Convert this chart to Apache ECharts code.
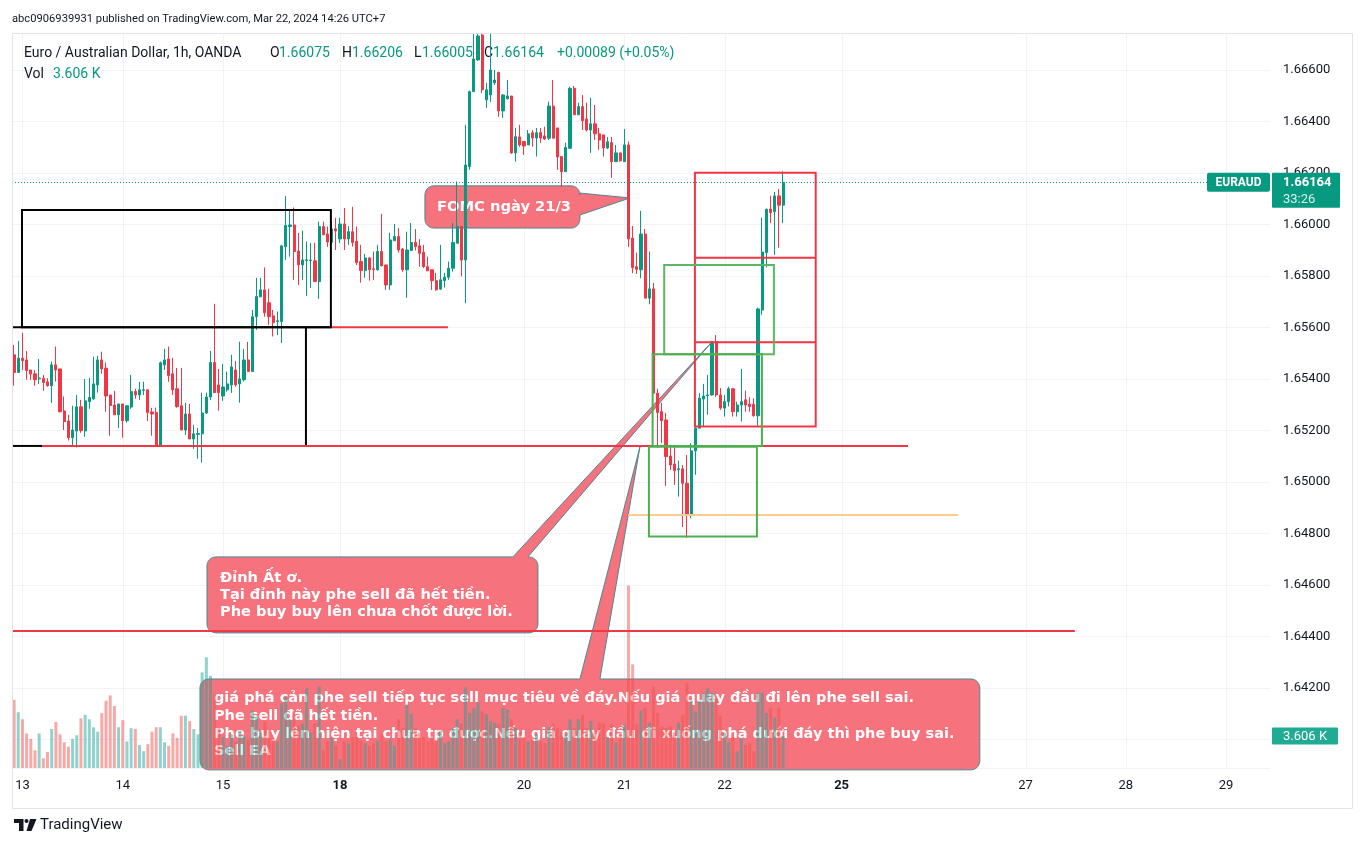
<!DOCTYPE html>
<html><head><meta charset="utf-8">
<script src="https://cdn.jsdelivr.net/npm/echarts/dist/echarts.min.js"></script>
<style>html,body{margin:0;padding:0;background:#fff;}#c{width:1363px;height:846px;}</style>
</head><body><div id="c"></div>
<script>
// ---------- DATA ----------
// trading sessions (day of March, first hour, end hour) in UTC+7, one candle per hour
const sessions = [['12',22,24],['13',0,24],['14',0,24],['15',0,24],['16',0,4],
  ['18',4,24],['19',0,24],['20',0,24],['21',0,24],['22',0,24],['23',0,4],
  ['25',4,24],['26',0,24],['27',0,24],['28',0,24],['29',0,11]];
const dayLabels = ['13','14','15','18','20','21','22','25','27','28','29'];
const boldDays = ['18','25'];
const priceTickDigits = 5;

// EURAUD 1h candles [open, close, low, high]
const candles = [
[1.65494,1.65425,1.65374,1.65532],[1.65425,1.65481,1.65425,1.65548],[1.65481,1.65471,1.65435,1.65579],[1.65474,1.65433,1.65397,1.65509],
[1.65435,1.65419,1.65397,1.65435],[1.65420,1.65397,1.65374,1.65435],[1.65401,1.65404,1.65381,1.65478],[1.65403,1.65386,1.65354,1.65416],
[1.65389,1.65374,1.65370,1.65403],[1.65374,1.65455,1.65307,1.65468],[1.65455,1.65435,1.65390,1.65526],[1.65439,1.65273,1.65270,1.65439],
[1.65276,1.65235,1.65202,1.65332],[1.65237,1.65172,1.65161,1.65261],[1.65172,1.65202,1.65140,1.65296],[1.65198,1.65292,1.65134,1.65338],
[1.65292,1.65200,1.65191,1.65319],[1.65198,1.65315,1.65176,1.65400],[1.65312,1.65328,1.65284,1.65404],[1.65323,1.65381,1.65319,1.65487],
[1.65377,1.65474,1.65347,1.65490],[1.65474,1.65439,1.65420,1.65506],[1.65442,1.65334,1.65273,1.65464],[1.65338,1.65297,1.65180,1.65338],
[1.65299,1.65261,1.65261,1.65354],[1.65261,1.65303,1.65210,1.65303],[1.65303,1.65238,1.65172,1.65303],[1.65238,1.65296,1.65230,1.65299],
[1.65291,1.65351,1.65284,1.65416],[1.65351,1.65338,1.65323,1.65362],[1.65338,1.65358,1.65319,1.65389],[1.65356,1.65358,1.65338,1.65390],
[1.65358,1.65270,1.65237,1.65358],[1.65272,1.65264,1.65180,1.65288],[1.65270,1.65140,1.65140,1.65289],[1.65140,1.65463,1.65140,1.65468],
[1.65455,1.65474,1.65435,1.65517],[1.65478,1.65413,1.65389,1.65526],[1.65420,1.65358,1.65338,1.65482],[1.65362,1.65293,1.65288,1.65443],
[1.65296,1.65202,1.65202,1.65443],[1.65202,1.65264,1.65183,1.65307],[1.65264,1.65167,1.65167,1.65303],[1.65167,1.65187,1.65129,1.65222],
[1.65185,1.65188,1.65091,1.65210],[1.65187,1.65268,1.65075,1.65347],[1.65268,1.65330,1.65264,1.65347],[1.65330,1.65464,1.65319,1.65509],
[1.65464,1.65347,1.65347,1.65692],[1.65377,1.65347,1.65277,1.65439],[1.65334,1.65369,1.65315,1.65459],[1.65358,1.65381,1.65351,1.65429],
[1.65377,1.65447,1.65346,1.65494],[1.65435,1.65377,1.65370,1.65470],[1.65381,1.65400,1.65308,1.65545],[1.65397,1.65474,1.65390,1.65517],
[1.65474,1.65429,1.65429,1.65544],[1.65429,1.65642,1.65429,1.65668],[1.65642,1.65720,1.65591,1.65793],[1.65719,1.65746,1.65719,1.65793],
[1.65746,1.65657,1.65642,1.65833],[1.65696,1.65642,1.65610,1.65750],[1.65645,1.65619,1.65565,1.65668],[1.65623,1.65626,1.65571,1.65662],
[1.65623,1.65917,1.65540,1.65921],[1.65914,1.65996,1.65862,1.66111],[1.65992,1.65998,1.65875,1.66057],[1.65998,1.65895,1.65785,1.66066],
[1.65897,1.65843,1.65765,1.65967],[1.65843,1.65862,1.65785,1.65976],[1.65860,1.65863,1.65723,1.65934],[1.65860,1.65862,1.65754,1.65928],
[1.65859,1.65778,1.65778,1.65929],[1.65778,1.65992,1.65711,1.66011],[1.65992,1.65960,1.65960,1.66011],[1.65963,1.65932,1.65913,1.65992],
[1.65931,1.65983,1.65921,1.66011],[1.65983,1.65975,1.65901,1.66026],[1.65944,1.66002,1.65928,1.66026],[1.66002,1.65944,1.65901,1.66064],
[1.65944,1.65972,1.65921,1.65994],[1.65972,1.65930,1.65914,1.66069],[1.65934,1.65852,1.65843,1.65992],[1.65856,1.65821,1.65774,1.65921],
[1.65821,1.65870,1.65793,1.65886],[1.65870,1.65824,1.65782,1.65874],[1.65828,1.65825,1.65785,1.65895],[1.65824,1.65895,1.65821,1.65921],
[1.65895,1.65839,1.65839,1.66041],[1.65843,1.65765,1.65746,1.65843],[1.65765,1.65940,1.65746,1.65968],[1.65937,1.65953,1.65937,1.66002],
[1.65953,1.65901,1.65891,1.65986],[1.65905,1.65824,1.65817,1.65909],[1.65824,1.65901,1.65715,1.65972],[1.65899,1.65930,1.65899,1.66006],
[1.65931,1.65914,1.65899,1.65982],[1.65917,1.65888,1.65836,1.65943],[1.65892,1.65836,1.65831,1.65921],[1.65836,1.65820,1.65820,1.65875],
[1.65824,1.65782,1.65746,1.65824],[1.65782,1.65746,1.65743,1.65812],[1.65749,1.65785,1.65746,1.65921],[1.65782,1.65795,1.65755,1.65812],
[1.65795,1.65830,1.65785,1.65856],[1.65830,1.65930,1.65817,1.66006],[1.65927,1.65992,1.65927,1.66167],[1.65992,1.65862,1.65798,1.65992],
[1.65862,1.66231,1.65694,1.66387],[1.66225,1.66516,1.66212,1.66520],[1.66516,1.66643,1.66516,1.66742],[1.66639,1.66732,1.66635,1.66742],
[1.66736,1.66523,1.66510,1.66742],[1.66484,1.66523,1.66453,1.66550],[1.66503,1.66600,1.66476,1.66742],[1.66550,1.66561,1.66542,1.66600],
[1.66590,1.66441,1.66418,1.66594],[1.66441,1.66503,1.66414,1.66506],[1.66488,1.66499,1.66485,1.66561],[1.66499,1.66278,1.66274,1.66499],
[1.66278,1.66341,1.66244,1.66375],[1.66340,1.66309,1.66302,1.66387],[1.66322,1.66305,1.66270,1.66322],[1.66309,1.66352,1.66309,1.66367],
[1.66356,1.66336,1.66302,1.66367],[1.66336,1.66356,1.66264,1.66375],[1.66357,1.66336,1.66317,1.66375],[1.66344,1.66332,1.66328,1.66380],
[1.66335,1.66460,1.66328,1.66477],[1.66460,1.66335,1.66335,1.66561],[1.66375,1.66262,1.66212,1.66375],[1.66264,1.66205,1.66147,1.66264],
[1.66205,1.66299,1.66205,1.66318],[1.66296,1.66529,1.66293,1.66535],[1.66529,1.66426,1.66426,1.66538],[1.66426,1.66458,1.66426,1.66473],
[1.66458,1.66403,1.66367,1.66503],[1.66410,1.66367,1.66361,1.66473],[1.66367,1.66391,1.66278,1.66492],[1.66391,1.66352,1.66328,1.66464],
[1.66352,1.66328,1.66290,1.66375],[1.66348,1.66297,1.66264,1.66348],[1.66297,1.66321,1.66293,1.66340],[1.66318,1.66244,1.66181,1.66340],
[1.66244,1.66278,1.66244,1.66309],[1.66278,1.66247,1.66244,1.66278],[1.66244,1.66309,1.66244,1.66371],[1.66309,1.65944,1.65913,1.66322],
[1.65947,1.65833,1.65811,1.65994],[1.65836,1.65826,1.65808,1.65891],[1.65824,1.65963,1.65791,1.66053],[1.65963,1.65714,1.65714,1.65983],
[1.65714,1.65750,1.65690,1.65895],[1.65750,1.65345,1.65345,1.65773],[1.65345,1.65270,1.65132,1.65362],[1.65273,1.65238,1.65152,1.65307],
[1.65241,1.65099,1.64985,1.65268],[1.65101,1.65066,1.65047,1.65144],[1.65070,1.65044,1.64989,1.65144],[1.65048,1.65051,1.64943,1.65083],
[1.65051,1.64995,1.64825,1.65066],[1.64995,1.64876,1.64783,1.65105],[1.64876,1.65121,1.64859,1.65151],[1.65121,1.65209,1.65028,1.65280],
[1.65209,1.65325,1.65209,1.65345],[1.65322,1.65334,1.65215,1.65381],[1.65335,1.65338,1.65261,1.65416],[1.65338,1.65545,1.65335,1.65548],
[1.65545,1.65338,1.65330,1.65571],[1.65338,1.65287,1.65280,1.65365],[1.65287,1.65312,1.65254,1.65338],[1.65312,1.65362,1.65293,1.65370],
[1.65362,1.65273,1.65254,1.65365],[1.65273,1.65299,1.65254,1.65312],[1.65299,1.65312,1.65235,1.65439],[1.65319,1.65299,1.65273,1.65355],
[1.65302,1.65293,1.65273,1.65329],[1.65302,1.65257,1.65254,1.65325],[1.65257,1.65672,1.65218,1.65677],[1.65668,1.65893,1.65649,1.66026],
[1.65891,1.66059,1.65833,1.66062],[1.66060,1.66046,1.66005,1.66112],[1.66050,1.66111,1.65882,1.66127],[1.66111,1.66075,1.65910,1.66138],
[1.66075,1.66164,1.66005,1.66206]
];

// volume in thousands
const volumes = [
7.7,6.3,5.5,3.9,3.3,2.0,3.9,1.1,1.8,4.4, 5.2,3.8,2.9,2.4,3.3,3.7,5.6,6.0,5.5,4.6,
4.1,6.2,7.6,8.2,7.0,4.6,5.4,3.0,4.5,4.4, 2.6,1.9,2.7,4.1,4.6,4.6,2.9,2.5,3.9,3.4,
5.9,5.9,5.3,4.4,3.8,10.8,12.5,10.4,8.3,4.5, 3.5,2.5,3.8,3.0,4.2,3.6,3.2,6.5,5.8,4.0,
5.2,4.3,3.4,3.0,7.3,8.0,5.5,6.0,4.8,5.0, 9.0,4.0,5.0,9.2,2.0,3.0,3.4,2.5,1.0,3.0,
2.8,3.5,3.5,3.0,2.8,2.5,2.8,3.1,3.8,3.0, 3.2,2.5,5.5,4.5,7.2,6.1,4.5,4.0,3.5,3.0,
3.6,3.2,4.2,2.8,3.0,4.5,5.5,5.0,9.1,6.2, 6.8,7.4,6.4,6.1,5.3,5.1,5.0,6.8,6.6,5.5,
4.5,4.0,3.5,3.0,3.2,3.8,3.0,2.8,4.6,5.0, 4.5,4.0,3.8,5.5,4.5,5.5,6.0,4.5,5.3,4.2,
5.1,5.0,3.5,4.9,2.9,4.0,4.9,20.6,11.7,5.0, 6.5,6.8,5.1,9.2,6.2,4.7,4.5,4.7,4.0,5.1,
6.0,9.6,7.6,6.4,7.6,8.5,9.0,8.5,7.8,5.9, 4.0,2.9,3.5,1.9,3.4,2.6,2.8,1.9,8.5,8.5,
6.2,6.8,5.7,6.8,3.606
];

// drawings (bar index, price)
const drawLines = [
  {from:[-0.5,1.65601], to:[75.8,1.65601], color:'#000000'},
  {from:[75.8,1.65601], to:[103.8,1.65601], color:'#f23645'},
  {from:[69.83,1.65601], to:[69.83,1.65140], color:'#000000'},
  {from:[-0.5,1.65140], to:[6.68,1.65140], color:'#000000'},
  {from:[6.68,1.65140], to:[213.9,1.65140], color:'#f23645'},
  {from:[-0.5,1.64421], to:[253.8,1.64421], color:'#f23645'},
  {from:[146.9,1.64872], to:[225.8,1.64872], color:'#fccb8c'},
  {from:[162.9,1.65871], to:[191.8,1.65871], color:'#f23645'},
  {from:[162.9,1.65543], to:[191.8,1.65543], color:'#f23645'}
];
const drawRects = [
  {a:[1.89,1.66056], b:[75.8,1.65601], color:'#000000'},
  {a:[162.9,1.66201], b:[191.8,1.65215], color:'#f23645'},
  {a:[155.55,1.65843], b:[181.8,1.65496], color:'#5cb860'},
  {a:[152.78,1.65496], b:[178.93,1.65140], color:'#4caf50'},
  {a:[151.89,1.65137], b:[177.73,1.64788], color:'#4caf50'}
];
const callouts = [
  {box:[98.3,1.66150,135.39,1.65986], side:'right', base:[1.66122,1.66037], tip:[147.35,1.66103],
   size:14.7, dx:12, dy:[21], lines:['FOMC ngày 21/3']},
  {box:[46.15,1.64709,125.34,1.64414], side:'top', base:[119.35,122.94], tip:[166.96,1.65544],
   size:14.6, dx:13, dy:[21,38,55], lines:['Đỉnh Ất ơ.','Tại đỉnh này phe sell đã hết tiền.','Phe buy buy lên chưa chốt được lời.']},
  {box:[44.48,1.64235,231.07,1.63882], side:'top', base:[135.39,140.17], tip:[149.74,1.65136],
   size:14.5, dx:14, dy:[19,37,55,72], lines:['giá phá cản phe sell tiếp tục sell mục tiêu về đáy.Nếu giá quay đầu đi lên phe sell sai.','Phe sell đã hết tiền.','Phe buy lên hiện tại chưa tp được.Nếu giá quay đầu đi xuống phá dưới đáy thì phe buy sai.','Sell EA']}
];

// ---------- BUILD ----------
const categories = [];
const dayOf = [];
sessions.forEach(([d,h0,h1]) => { for (let h=h0; h<h1; h++) { categories.push('Mar ' + d + ' ' + String(h).padStart(2,'0') + ':00'); dayOf.push(d); } });
const labelAt = {};
dayLabels.forEach(d => { const i = dayOf.indexOf(d); if (i >= 0) labelAt[i] = d; });
const labelIdx = Object.keys(labelAt).map(Number);

const UP = '#089981', DOWN = '#f23645';
const last = candles[candles.length-1];
const prev = candles[candles.length-2];
const FONT = 'Roboto, "Noto Sans", sans-serif';
const BOLDFONT = '"DejaVu Sans", "Noto Sans", sans-serif';

function hasFont(name){
  const c = document.createElement('canvas').getContext('2d');
  c.font = '20px monospace'; const w0 = c.measureText('abcdefghijklmnopqrstuvwxyz0123456789').width;
  c.font = '20px "' + name + '", monospace'; const w1 = c.measureText('abcdefghijklmnopqrstuvwxyz0123456789').width;
  return Math.abs(w1 - w0) > 0.5;
}
const TITLEFONT = hasFont('Liberation Sans Narrow') ? '14.4px "Liberation Sans Narrow"' : '11.2px Roboto';

const chart = echarts.init(document.getElementById('c'), null, {renderer:'canvas'});
const option = {
  animation:false,
  backgroundColor:'#ffffff',
  textStyle:{fontFamily:FONT},
  grid:{left:12, top:33, width:1258, height:735, containLabel:false, outerBoundsMode:'none'},
  xAxis:{type:'category', data:categories, boundaryGap:true,
    axisLine:{show:false}, axisTick:{show:false}, splitLine:{show:false},
    axisLabel:{interval:(i)=>labelAt[i]!==undefined, color:'#131722', fontSize:13, margin:11, fontFamily:FONT,
      formatter:(v,i)=>{const d=labelAt[i]; if(d===undefined) return ''; return boldDays.includes(d)?'{b|'+d+'}':d;},
      rich:{b:{fontWeight:'bold', fontSize:13, color:'#131722', fontFamily:FONT}}}},
  yAxis:[
    {type:'value', position:'right', min:1.6388927, max:1.6674364, splitNumber:14,
     axisLine:{show:false}, axisTick:{show:false},
     axisLabel:{color:'#131722', fontSize:13, margin:13, showMinLabel:false, showMaxLabel:false, fontFamily:FONT,
       formatter:(v)=>v.toFixed(priceTickDigits)},
     splitLine:{show:true, lineStyle:{color:'#f0f3fa', width:1}}},
    {type:'value', min:0, max:83, show:false, splitLine:{show:false}}
  ],
  series:[
    {type:'bar', yAxisIndex:1, z:3, silent:true, barWidth:'72%',
     data:volumes.map((v,i)=>({value:v, itemStyle:{color: candles[i][1]>=candles[i][0] ? 'rgba(38,166,154,0.5)' : 'rgba(239,83,80,0.5)'}}))},
    {type:'candlestick', z:4, silent:true, barWidth:'64%', clip:true, data:candles,
     itemStyle:{color:UP, color0:DOWN, borderColor:UP, borderColor0:DOWN, borderWidth:1}}
  ]
};
chart.setOption(option);

function buildGraphics(){
  const xa = chart.convertToPixel({xAxisIndex:0}, categories[0]);
  const xb = chart.convertToPixel({xAxisIndex:0}, categories[200]);
  const X = i => xa + (xb - xa) * i / 200;
  const Y = p => chart.convertToPixel({yAxisIndex:0}, p);
  const YV = v => chart.convertToPixel({yAxisIndex:1}, v);
  const els = [];
  // vertical day grid lines
  labelIdx.forEach(i => { const x = Math.round(X(i)) + 0.5;
    els.push({type:'line', z:1, silent:true, shape:{x1:x, y1:33, x2:x, y2:768}, style:{stroke:'#f0f3fa', lineWidth:1}}); });
  // last price dotted line
  const yp = Y(last[1]);
  els.push({type:'line', z:4.5, silent:true, shape:{x1:12, y1:Math.round(yp)+0.5, x2:1207, y2:Math.round(yp)+0.5},
    style:{stroke:UP, lineWidth:1, lineDash:[1,2]}});
  // callouts
  callouts.forEach(c => {
    const x0 = X(c.box[0]), y0 = Y(c.box[1]), x1 = X(c.box[2]), y1 = Y(c.box[3]);
    const r = 9, pts = [];
    const arc = (cx,cy,a0,a1)=>{for(let k=0;k<=6;k++){const a=(a0+(a1-a0)*k/6)*Math.PI/180; pts.push([cx+r*Math.cos(a), cy+r*Math.sin(a)]);}};
    const tip = [X(c.tip[0]), Y(c.tip[1])];
    arc(x0+r,y0+r,180,270);
    if (c.side==='top') pts.push([X(c.base[0]),y0], tip, [X(c.base[1]),y0]);
    arc(x1-r,y0+r,270,360);
    if (c.side==='right') pts.push([x1,Y(c.base[0])], tip, [x1,Y(c.base[1])]);
    arc(x1-r,y1-r,0,90);
    arc(x0+r,y1-r,90,180);
    els.push({type:'polygon', z:2, silent:true, shape:{points:pts}, style:{fill:'#f6727d', stroke:'#4d8893', lineWidth:1}});
    c.lines.forEach((t,k)=>{
      els.push({type:'text', z:2.5, silent:true, x:x0+c.dx, y:y0+c.dy[k],
        style:{text:t, fill:'#ffffff', font:'bold '+c.size+'px '+BOLDFONT, align:'left', verticalAlign:'middle'}});
    });
  });
  // lines & rects
  drawLines.forEach(l => els.push({type:'line', z:5, silent:true,
    shape:{x1:X(l.from[0]), y1:Y(l.from[1]), x2:X(l.to[0]), y2:Y(l.to[1])}, style:{stroke:l.color, lineWidth:2}}));
  drawRects.forEach(rc => { const xa1=X(rc.a[0]), ya1=Y(rc.a[1]), xb1=X(rc.b[0]), yb1=Y(rc.b[1]);
    els.push({type:'rect', z:5, silent:true, shape:{x:Math.min(xa1,xb1), y:Math.min(ya1,yb1), width:Math.abs(xb1-xa1), height:Math.abs(yb1-ya1)},
      style:{fill:'none', stroke:rc.color, lineWidth:2}}); });
  // header area cover and texts
  els.push({type:'rect', z:9, silent:true, shape:{x:0, y:0, width:1363, height:33}, style:{fill:'#ffffff'}});
  const txt = (t,x,y,color,font,z,align)=>els.push({type:'text', z:z||10, silent:true, x:x, y:y,
    style:{text:t, fill:color, font:font, align:align||'left', verticalAlign:'middle'}});
  txt('abc0906939931 published on TradingView.com, Mar 22, 2024 14:26 UTC+7', 12, 19, '#131722', TITLEFONT);
  const LF = '14px ' + FONT;
  txt('Euro / Australian Dollar, 1h, OANDA', 24, 53, '#131722', LF, 1);
  txt('O', 270, 53, '#131722', LF, 1); txt(last[0].toFixed(5), 279, 53, UP, LF, 1);
  txt('H', 342, 53, '#131722', LF, 1); txt(last[3].toFixed(5), 352, 53, UP, LF, 1);
  txt('L', 414, 53, '#131722', LF, 1); txt(last[2].toFixed(5), 422, 53, UP, LF, 1);
  txt('C', 484, 53, '#131722', LF, 1); txt(last[1].toFixed(5), 493, 53, UP, LF, 1);
  const ch = last[1] - prev[1];
  txt('+' + ch.toFixed(5) + ' (+' + (ch / prev[1] * 100).toFixed(2) + '%)', 557, 53, UP, LF, 1);
  txt('Vol', 24, 74, '#131722', LF, 1);
  txt(volumes[volumes.length-1].toFixed(3) + ' K', 53, 74, UP, LF, 1);
  // price badges
  els.push({type:'rect', z:10, silent:true, shape:{x:1207, y:yp-9.5, width:63, height:19, r:2}, style:{fill:UP}});
  txt('EURAUD', 1238.5, yp+0.5, '#ffffff', 'bold 12px '+FONT, 10, 'center');
  els.push({type:'rect', z:10, silent:true, shape:{x:1272, y:yp-9.5, width:68, height:35, r:1}, style:{fill:UP}});
  txt(last[1].toFixed(5), 1283, yp+0.5, '#ffffff', 'bold 13px '+FONT, 11);
  txt('33:26', 1283, yp+17, 'rgba(255,255,255,0.85)', '13px '+FONT, 11);
  const yv = YV(volumes[volumes.length-1]);
  els.push({type:'rect', z:10, silent:true, shape:{x:1272, y:yv-8.5, width:66, height:17, r:1}, style:{fill:'#22ab94'}});
  txt(volumes[volumes.length-1].toFixed(3) + ' K', 1283, yv+0.5, '#ffffff', '13px '+FONT, 11);
  // frame
  els.push({type:'rect', z:10, silent:true, shape:{x:12.5, y:33.5, width:1340, height:775}, style:{fill:'none', stroke:'#e0e3eb', lineWidth:1}});
  // footer logo
  els.push({type:'polygon', z:10, silent:true, shape:{points:[[14,819],[23.5,819],[23.5,831],[19,831],[19,823],[14,823]]}, style:{fill:'#131722'}});
  els.push({type:'circle', z:10, silent:true, shape:{cx:26.5, cy:821, r:2}, style:{fill:'#131722'}});
  els.push({type:'polygon', z:10, silent:true, shape:{points:[[30,819],[36.5,819],[31.5,831],[26.5,831]]}, style:{fill:'#131722'}});
  txt('TradingView', 40, 825, '#131722', '15px '+FONT, 10);
  chart.setOption({graphic:{elements:els}});
}
buildGraphics();
</script>
</body></html>
